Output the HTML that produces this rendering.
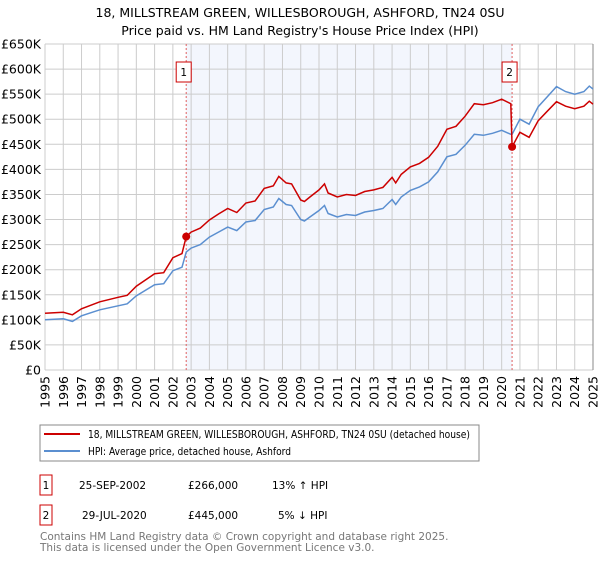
<!DOCTYPE html>
<html><head><meta charset="utf-8"><style>
body{margin:0;background:#fff;width:600px;height:560px;overflow:hidden;font-family:"DejaVu Sans","Liberation Sans",sans-serif}
</style></head><body>
<svg id="chart" width="600" height="560" xmlns="http://www.w3.org/2000/svg" font-family="DejaVu Sans, Liberation Sans, sans-serif">
<text x="300" y="17" text-anchor="middle" font-size="12.5" fill="#000">18, MILLSTREAM GREEN, WILLESBOROUGH, ASHFORD, TN24 0SU</text>
<text x="300" y="35" text-anchor="middle" font-size="12.5" fill="#000">Price paid vs. HM Land Registry's House Price Index (HPI)</text>
<g id="plot"></g>
<g>
<rect x="40" y="425" width="439" height="36" fill="#fff" stroke="#888"/>
<line x1="44" y1="434" x2="80" y2="434" stroke="#cc0000" stroke-width="2"/>
<text x="88" y="438" font-size="10.5" textLength="382" lengthAdjust="spacingAndGlyphs">18, MILLSTREAM GREEN, WILLESBOROUGH, ASHFORD, TN24 0SU (detached house)</text>
<line x1="44" y1="451" x2="80" y2="451" stroke="#5b8fd0" stroke-width="2"/>
<text x="88" y="455" font-size="10.5" textLength="203" lengthAdjust="spacingAndGlyphs">HPI: Average price, detached house, Ashford</text>
</g>
<g font-size="10.5">
<rect x="40" y="475" width="12" height="20" fill="#fff" stroke="#cc0000"/>
<text x="46" y="489" text-anchor="middle">1</text>
<text x="79" y="489">25-SEP-2002</text>
<text x="188" y="489">£266,000</text>
<text x="272" y="489">13% ↑ HPI</text>
<rect x="40" y="505" width="12" height="20" fill="#fff" stroke="#cc0000"/>
<text x="46" y="519" text-anchor="middle">2</text>
<text x="82" y="519">29-JUL-2020</text>
<text x="188" y="519">£445,000</text>
<text x="278" y="519">5% ↓ HPI</text>
</g>
<g fill="#777" font-size="10.5">
<text x="40" y="540">Contains HM Land Registry data © Crown copyright and database right 2025.</text>
<text x="40" y="551">This data is licensed under the Open Government Licence v3.0.</text>
</g>
</svg>
<script>
const dates=[1995,1996,1996.5,1997,1998,1999,1999.5,2000,2001,2001.5,2002,2002.5,2002.73,2003,2003.5,2004,2004.5,2005,2005.5,2006,2006.5,2007,2007.5,2007.8,2008.2,2008.5,2009,2009.2,2009.5,2010,2010.3,2010.5,2011,2011.5,2012,2012.5,2013,2013.5,2014,2014.2,2014.5,2015,2015.5,2016,2016.5,2017,2017.5,2018,2018.5,2019,2019.5,2020,2020.5,2020.57,2021,2021.5,2022,2022.5,2023,2023.5,2024,2024.5,2024.8,2025];
const hpiValues=[100,102,97,108,120,128,132,148,170,172,198,205,235,243,250,265,275,285,278,295,298,320,325,342,330,328,300,297,305,318,328,312,305,310,308,315,318,322,340,330,345,358,365,375,395,425,430,448,470,468,472,478,470,470,500,490,525,545,565,555,550,555,566,560];
const priceValues=[113,115,110,122,136,145,149,167,192,194,224,232,266,275,283,299,311,322,314,333,337,362,367,386,373,371,339,336,345,359,371,353,345,350,348,356,359,364,384,373,390,405,412,424,446,480,486,506,531,529,533,540,531,445,474,464,497,516,535,526,521,526,536,530];
const saleDates=[2002.73,2020.57];
const salePrices=[266,445];
const saleLabels=["1","2"];
const yTicks=[0,50,100,150,200,250,300,350,400,450,500,550,600,650];
const yTickLabels=["£0","£50K","£100K","£150K","£200K","£250K","£300K","£350K","£400K","£450K","£500K","£550K","£600K","£650K"];
const xTicks=[1995,1996,1997,1998,1999,2000,2001,2002,2003,2004,2005,2006,2007,2008,2009,2010,2011,2012,2013,2014,2015,2016,2017,2018,2019,2020,2021,2022,2023,2024,2025];

const X0=45,X1=593,Y0=370,Y1=44;
const xs=d=>X0+(d-1995)/30*(X1-X0);
const ys=v=>Y0-v/650*(Y0-Y1);
const NS="http://www.w3.org/2000/svg";
const g=document.getElementById('plot');
function mk(tag,attrs){const e=document.createElementNS(NS,tag);for(const k in attrs)e.setAttribute(k,attrs[k]);g.appendChild(e);return e;}

const shade=mk('rect',{x:xs(saleDates[0]),y:Y1,width:xs(saleDates[1])-xs(saleDates[0]),height:Y0-Y1,fill:'#f3f6fd'});


yTicks.forEach((t,i)=>{
  const l=mk('line',{x1:X0,x2:X1,y1:ys(t),y2:ys(t),stroke:'#cccccc','stroke-width':1});
  
  
  const tx=mk('text',{x:X0-4,y:ys(t)+4.5,'text-anchor':'end','font-size':12.5,fill:'#000'});
  tx.textContent=yTickLabels[i];
  
  
});
xTicks.forEach(t=>{
  const l=mk('line',{x1:xs(t),x2:xs(t),y1:Y1,y2:Y0,stroke:'#cccccc','stroke-width':1});
  
  
  const tx=mk('text',{x:0,y:0,'text-anchor':'end','font-size':12.5,fill:'#000',transform:`translate(${xs(t)+4.5},${Y0+6}) rotate(-90)`});
  tx.textContent=t;
  
  
});
const rb=mk('line',{x1:X1,x2:X1,y1:Y1,y2:Y0,stroke:'#888','stroke-width':1});


saleDates.forEach((d,i)=>{
  const l=mk('line',{x1:xs(d),x2:xs(d),y1:Y1,y2:Y0,stroke:'#e06060','stroke-width':1,'stroke-dasharray':'2,2'});
  
  
});
const pts=arr=>arr.map((v,i)=>xs(dates[i]).toFixed(1)+','+ys(v).toFixed(1)).join(' ');
const hl=mk('polyline',{points:pts(hpiValues),fill:'none',stroke:'#5b8fd0','stroke-width':1.5});


const pl=mk('polyline',{points:pts(priceValues),fill:'none',stroke:'#cc0000','stroke-width':1.5});


saleDates.forEach((d,i)=>{
  const c=mk('circle',{cx:xs(d),cy:ys(salePrices[i]),r:4,fill:'#cc0000'});
  
  
  const r=mk('rect',{x:xs(d)-10,y:62,width:15,height:20,fill:'#fff',stroke:'#cc0000'});
  
  
  const t=mk('text',{x:xs(d)-2.5,y:76,'text-anchor':'middle','font-size':10.5,fill:'#000'});
  t.textContent=saleLabels[i];
  
  
});
</script>
</body></html>
